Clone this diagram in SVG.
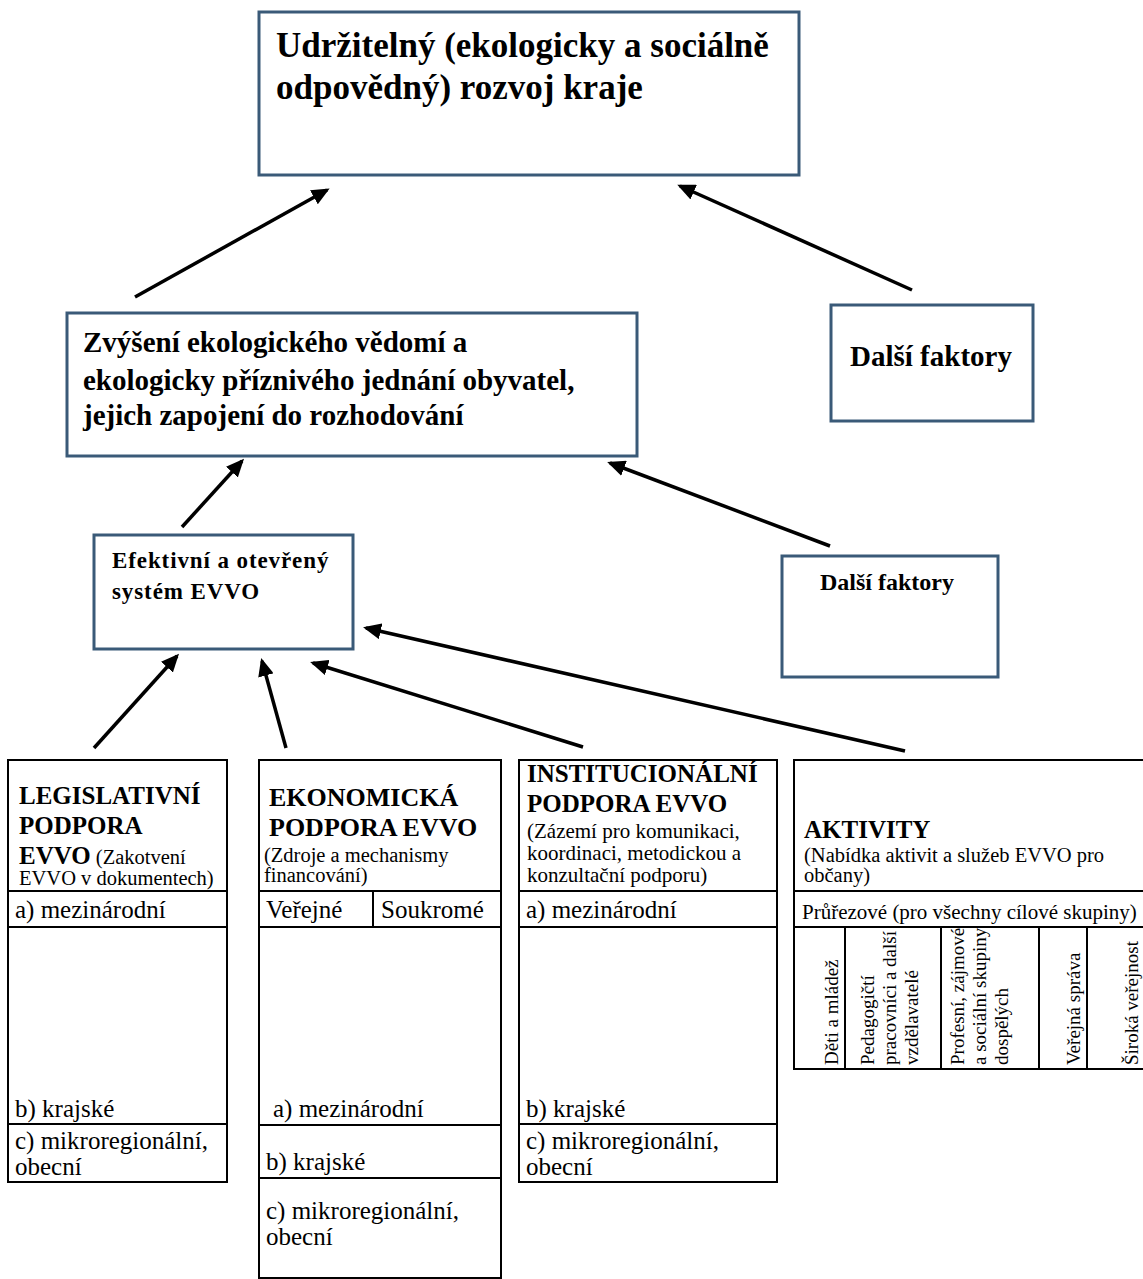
<svg xmlns="http://www.w3.org/2000/svg" width="1143" height="1279" viewBox="0 0 1143 1279">
<defs>
<style>
.nb{fill:#fff;stroke:#3a5a78;stroke-width:3}
.tb{fill:#fff;stroke:#000;stroke-width:2}
.ln{stroke:#000;stroke-width:2;fill:none}
.ar{stroke:#000;stroke-width:3.5;fill:none;marker-end:url(#ah)}
text{font-family:"Liberation Serif","Times New Roman",serif;fill:#000}
.b35{font-size:35px;font-weight:bold}
.b29{font-size:29px;font-weight:bold}
.b25{font-size:25px;font-weight:bold}
.b26{font-size:26px;font-weight:bold}
.b24{font-size:24px;font-weight:bold}
.b23{font-size:23px;font-weight:bold}
.r25{font-size:25px}
.r21{font-size:21px}
.r20{font-size:20.5px}
.v19{font-size:19px}
</style>
<marker id="ah" markerUnits="userSpaceOnUse" markerWidth="18" markerHeight="16" refX="15" refY="8" orient="auto">
<path d="M0,0 L18,8 L0,16 z" fill="#000"/>
</marker>
</defs>
<rect width="1143" height="1279" fill="#fff"/>

<g id="n-rozvoj">
<rect class="nb" x="259" y="12" width="540" height="163"/>
<text class="b35" x="276" y="57">Udržitelný (ekologicky a sociálně</text>
<text class="b35" x="276" y="99">odpovědný) rozvoj kraje</text>
</g>

<g id="n-vedomi">
<rect class="nb" x="67" y="313" width="570" height="143"/>
<text class="b29" x="83" y="352">Zvýšení ekologického vědomí a</text>
<text class="b29" x="83" y="390">ekologicky příznivého jednání obyvatel,</text>
<text class="b29" x="83" y="425">jejich zapojení do rozhodování</text>
</g>

<g id="n-faktory1">
<rect class="nb" x="831" y="305" width="202" height="116"/>
<text class="b29" x="850" y="366">Další faktory</text>
</g>

<g id="n-faktory2">
<rect class="nb" x="782" y="556" width="216" height="121"/>
<text class="b24" x="820" y="590">Další faktory</text>
</g>

<g id="n-system">
<rect class="nb" x="94" y="535" width="259" height="114"/>
<text class="b23" x="112" y="568" letter-spacing="0.9">Efektivní a otevřený</text>
<text class="b23" x="112" y="599" letter-spacing="0.9">systém EVVO</text>
</g>

<g id="n-legislativni">
<rect class="tb" x="8" y="760" width="219" height="422"/>
<line class="ln" x1="8" y1="891" x2="227" y2="891"/>
<line class="ln" x1="8" y1="927" x2="227" y2="927"/>
<line class="ln" x1="8" y1="1124" x2="227" y2="1124"/>
<text class="b25" x="19" y="804">LEGISLATIVNÍ</text>
<text class="b25" x="19" y="834">PODPORA</text>
<text x="19" y="864"><tspan class="b25">EVVO</tspan><tspan class="r20"> (Zakotvení</tspan></text>
<text class="r20" x="19" y="885">EVVO v dokumentech)</text>
<text class="r25" x="15" y="918">a) mezinárodní</text>
<text class="r25" x="15" y="1117">b) krajské</text>
<text class="r25" x="15" y="1149">c) mikroregionální,</text>
<text class="r25" x="15" y="1175">obecní</text>
</g>

<g id="n-ekonomicka">
<rect class="tb" x="259" y="760" width="242" height="518"/>
<line class="ln" x1="259" y1="891" x2="501" y2="891"/>
<line class="ln" x1="259" y1="927" x2="501" y2="927"/>
<line class="ln" x1="373" y1="891" x2="373" y2="927"/>
<line class="ln" x1="259" y1="1125" x2="501" y2="1125"/>
<line class="ln" x1="259" y1="1178" x2="501" y2="1178"/>
<text class="b26" x="269" y="806">EKONOMICKÁ</text>
<text class="b26" x="269" y="836">PODPORA EVVO</text>
<text class="r20" x="264" y="862">(Zdroje a mechanismy</text>
<text class="r20" x="264" y="882">financování)</text>
<text class="r25" x="266" y="918">Veřejné</text>
<text class="r25" x="381" y="918">Soukromé</text>
<text class="r25" x="273" y="1117">a) mezinárodní</text>
<text class="r25" x="266" y="1170">b) krajské</text>
<text class="r25" x="266" y="1219">c) mikroregionální,</text>
<text class="r25" x="266" y="1245">obecní</text>
</g>

<g id="n-institucionalni">
<rect class="tb" x="519" y="760" width="258" height="422"/>
<line class="ln" x1="519" y1="891" x2="777" y2="891"/>
<line class="ln" x1="519" y1="927" x2="777" y2="927"/>
<line class="ln" x1="519" y1="1124" x2="777" y2="1124"/>
<text class="b25" x="527" y="782">INSTITUCIONÁLNÍ</text>
<text class="b25" x="527" y="812">PODPORA EVVO</text>
<text class="r21" x="527" y="838">(Zázemí pro komunikaci,</text>
<text class="r21" x="527" y="860">koordinaci, metodickou a</text>
<text class="r21" x="527" y="882">konzultační podporu)</text>
<text class="r25" x="526" y="918">a) mezinárodní</text>
<text class="r25" x="526" y="1117">b) krajské</text>
<text class="r25" x="526" y="1149">c) mikroregionální,</text>
<text class="r25" x="526" y="1175">obecní</text>
</g>

<g id="n-aktivity">
<rect class="tb" x="794" y="760" width="360" height="309"/>
<line class="ln" x1="794" y1="891" x2="1143" y2="891"/>
<line class="ln" x1="794" y1="927" x2="1143" y2="927"/>
<line class="ln" x1="845" y1="927" x2="845" y2="1069"/>
<line class="ln" x1="941" y1="927" x2="941" y2="1069"/>
<line class="ln" x1="1039" y1="927" x2="1039" y2="1069"/>
<line class="ln" x1="1087" y1="927" x2="1087" y2="1069"/>
<text class="b25" x="804" y="838">AKTIVITY</text>
<text class="r20" x="804" y="862">(Nabídka aktivit a služeb EVVO pro</text>
<text class="r20" x="804" y="882">občany)</text>
<text class="r21" x="802" y="919">Průřezové (pro všechny cílové skupiny)</text>
<text class="v19" transform="translate(838,1065) rotate(-90)">Děti a mládež</text>
<text class="v19" transform="translate(874,1065) rotate(-90)">Pedagogičtí</text>
<text class="v19" transform="translate(896,1065) rotate(-90)">pracovníci a další</text>
<text class="v19" transform="translate(918,1065) rotate(-90)">vzdělavatelé</text>
<text class="v19" transform="translate(964,1065) rotate(-90)">Profesní, zájmové</text>
<text class="v19" transform="translate(986,1065) rotate(-90)">a sociální skupiny</text>
<text class="v19" transform="translate(1008,1065) rotate(-90)">dospělých</text>
<text class="v19" transform="translate(1080,1065) rotate(-90)">Veřejná správa</text>
<text class="v19" transform="translate(1138,1065) rotate(-90)">Široká veřejnost</text>
</g>

<g id="connectors">
<line class="ar" x1="135" y1="297" x2="327" y2="190"/>
<line class="ar" x1="912" y1="290" x2="680" y2="186"/>
<line class="ar" x1="182" y1="527" x2="242" y2="461"/>
<line class="ar" x1="830" y1="546" x2="610" y2="463"/>
<line class="ar" x1="94" y1="748" x2="177" y2="656"/>
<line class="ar" x1="286" y1="748" x2="262" y2="661"/>
<line class="ar" x1="583" y1="747" x2="313" y2="663"/>
<line class="ar" x1="905" y1="751" x2="366" y2="628"/>
</g>
</svg>
